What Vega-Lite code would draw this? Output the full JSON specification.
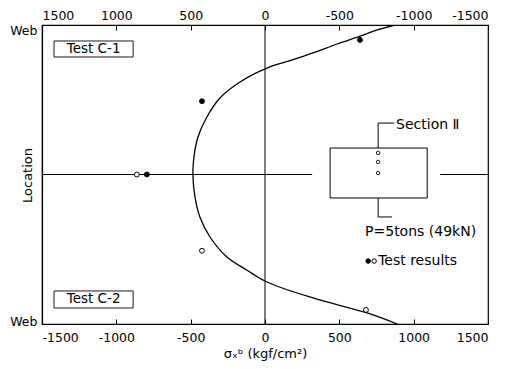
{
  "$schema": "https://vega.github.io/schema/vega-lite/v6.json",
  "width": 446,
  "height": 299,
  "autosize": {"type": "none"},
  "padding": {"left": 42, "top": 25, "right": 25, "bottom": 45},
  "background": "white",
  "config": {
    "font": "DejaVu Sans",
    "view": {"stroke": "black", "strokeWidth": 1.2},
    "axis": {
      "domainColor": "black",
      "domainWidth": 1.2,
      "tickColor": "black",
      "labelColor": "black",
      "titleColor": "black",
      "labelFont": "DejaVu Sans",
      "titleFont": "DejaVu Sans",
      "labelFontSize": 12.5,
      "titleFontSize": 13,
      "titleFontWeight": "normal",
      "grid": false
    }
  },
  "layer": [
    {
      "data": {"values": [{"s": 0}]},
      "mark": {"type": "rule", "stroke": "black", "strokeWidth": 1},
      "encoding": {
        "x": {
          "field": "s",
          "type": "quantitative",
          "scale": {"domain": [-1500, 1500], "nice": false, "zero": false},
          "axis": {
            "orient": "bottom",
            "values": [-1500, -1000, -500, 0, 500, 1000, 1500],
            "labelExpr": "'' + datum.value",
            "tickSize": -5,
            "labelPadding": 12,
            "title": "σₓᵇ  (kgf/cm²)",
            "titlePadding": 4
          }
        }
      }
    },
    {
      "data": {"values": [{"s": 0}]},
      "mark": {"type": "rule", "opacity": 0},
      "encoding": {
        "x": {
          "field": "s",
          "type": "quantitative",
          "axis": {
            "orient": "top",
            "values": [-1500, -1000, -500, 0, 500, 1000, 1500],
            "labelExpr": "datum.value == 0 ? '0' : '' + (-datum.value)",
            "tickSize": -5,
            "labelPadding": 8,
            "title": null
          }
        }
      }
    },
    {
      "data": {"values": [
        {"s1": -1500, "s2": 317, "loc": 0},
        {"s1": 1178, "s2": 1500, "loc": 0}
      ]},
      "mark": {"type": "rule", "stroke": "black", "strokeWidth": 1},
      "encoding": {
        "x": {"field": "s1", "type": "quantitative", "axis": null},
        "x2": {"field": "s2"},
        "y": {
          "field": "loc",
          "type": "quantitative",
          "scale": {"domain": [-1, 1], "nice": false, "zero": false},
          "axis": {
            "orient": "left",
            "values": [-0.98, 0.96],
            "labelExpr": "'Web'",
            "ticks": false,
            "labelPadding": 5,
            "labelBound": false,
            "title": "Location",
            "titleAngle": 270,
            "titleX": -15,
            "titleY": 150,
            "titleAlign": "center",
            "titleBaseline": "middle"
          }
        }
      }
    },
    {
      "data": {"values": [
        {"sigma": 875, "loc": 1.0},
        {"sigma": 754, "loc": 0.967},
        {"sigma": 640, "loc": 0.926},
        {"sigma": 485, "loc": 0.873},
        {"sigma": 323, "loc": 0.813},
        {"sigma": 168, "loc": 0.761},
        {"sigma": 13, "loc": 0.712},
        {"sigma": -168, "loc": 0.619},
        {"sigma": -303, "loc": 0.512},
        {"sigma": -391, "loc": 0.385},
        {"sigma": -451, "loc": 0.251},
        {"sigma": -478, "loc": 0.117},
        {"sigma": -485, "loc": 0.0},
        {"sigma": -471, "loc": -0.15},
        {"sigma": -438, "loc": -0.284},
        {"sigma": -370, "loc": -0.418},
        {"sigma": -256, "loc": -0.552},
        {"sigma": -121, "loc": -0.64},
        {"sigma": 13, "loc": -0.719},
        {"sigma": 323, "loc": -0.826},
        {"sigma": 687, "loc": -0.926},
        {"sigma": 889, "loc": -1.0}
      ]},
      "mark": {"type": "line", "stroke": "black", "strokeWidth": 1.3, "interpolate": "catmull-rom", "clip": true},
      "encoding": {
        "x": {"field": "sigma", "type": "quantitative", "axis": null},
        "y": {"field": "loc", "type": "quantitative"},
        "order": {"field": "loc", "sort": "descending"}
      }
    },
    {
      "data": {"values": [
        {"x1": 438, "x2": 1091, "y1": -0.157, "y2": 0.177}
      ]},
      "mark": {"type": "rect", "fill": null, "stroke": "black", "strokeWidth": 1},
      "encoding": {
        "x": {"field": "x1", "type": "quantitative", "axis": null},
        "x2": {"field": "x2"},
        "y": {"field": "y1", "type": "quantitative"},
        "y2": {"field": "y2"}
      }
    },
    {
      "data": {"values": [
        {"x1": -1419, "x2": -887, "y1": 0.786, "y2": 0.893, "dash": "solid"},
        {"x1": -1419, "x2": -887, "y1": -0.893, "y2": -0.779, "dash": "dashed"}
      ]},
      "mark": {"type": "rect", "fill": null, "stroke": "black", "strokeWidth": 0.9},
      "encoding": {
        "x": {"field": "x1", "type": "quantitative", "axis": null},
        "x2": {"field": "x2"},
        "y": {"field": "y1", "type": "quantitative"},
        "y2": {"field": "y2"},
        "strokeDash": {
          "field": "dash",
          "type": "nominal",
          "scale": {"domain": ["solid", "dashed"], "range": [[1, 0], [4, 2]]},
          "legend": null
        }
      }
    },
    {
      "data": {"values": [
        {"g": "section", "o": 1, "x": 761, "y": 0.177},
        {"g": "section", "o": 2, "x": 761, "y": 0.344},
        {"g": "section", "o": 3, "x": 870, "y": 0.344},
        {"g": "load", "o": 1, "x": 761, "y": -0.157},
        {"g": "load", "o": 2, "x": 761, "y": -0.284},
        {"g": "load", "o": 3, "x": 855, "y": -0.284}
      ]},
      "mark": {"type": "line", "stroke": "black", "strokeWidth": 1},
      "encoding": {
        "x": {"field": "x", "type": "quantitative", "axis": null},
        "y": {"field": "y", "type": "quantitative"},
        "detail": {"field": "g"},
        "order": {"field": "o"}
      }
    },
    {
      "data": {"values": [
        {"x": 761, "y": 0.144},
        {"x": 761, "y": 0.084},
        {"x": 761, "y": 0.010}
      ]},
      "mark": {"type": "point", "shape": "circle", "filled": false, "stroke": "black", "strokeWidth": 0.9, "size": 12, "opacity": 1},
      "encoding": {
        "x": {"field": "x", "type": "quantitative", "axis": null},
        "y": {"field": "y", "type": "quantitative"}
      }
    },
    {
      "data": {"values": [
        {"test": "C-1", "sigma": 639, "loc": 0.90},
        {"test": "C-1", "sigma": -424, "loc": 0.49},
        {"test": "C-1", "sigma": -795, "loc": 0.0},
        {"test": "C-2", "sigma": 679, "loc": -0.906},
        {"test": "C-2", "sigma": -424, "loc": -0.51},
        {"test": "C-2", "sigma": -862, "loc": 0.0}
      ]},
      "mark": {"type": "point", "shape": "circle", "stroke": "black", "strokeWidth": 1, "size": 24, "opacity": 1},
      "encoding": {
        "x": {"field": "sigma", "type": "quantitative", "axis": null},
        "y": {"field": "loc", "type": "quantitative"},
        "fill": {
          "field": "test",
          "type": "nominal",
          "scale": {"domain": ["C-1", "C-2"], "range": ["black", "white"]},
          "legend": null
        }
      }
    },
    {
      "data": {"values": [
        {"k": "filled", "x": 694, "y": -0.579},
        {"k": "open", "x": 734, "y": -0.579}
      ]},
      "mark": {"type": "point", "shape": "circle", "stroke": "black", "strokeWidth": 1, "size": 20, "opacity": 1},
      "encoding": {
        "x": {"field": "x", "type": "quantitative", "axis": null},
        "y": {"field": "y", "type": "quantitative"},
        "fill": {
          "field": "k",
          "type": "nominal",
          "scale": {"domain": ["filled", "open"], "range": ["black", "white"]},
          "legend": null
        }
      }
    },
    {
      "data": {"values": [
        {"label": "Section Ⅱ", "x": 882, "y": 0.331},
        {"label": "P=5tons (49kN)", "x": 673, "y": -0.385},
        {"label": "Test results", "x": 761, "y": -0.579}
      ]},
      "mark": {"type": "text", "align": "left", "baseline": "middle", "fontSize": 14, "color": "black"},
      "encoding": {
        "x": {"field": "x", "type": "quantitative", "axis": null},
        "y": {"field": "y", "type": "quantitative"},
        "text": {"field": "label"}
      }
    },
    {
      "data": {"values": [
        {"label": "Test  C-1", "x": -1153, "y": 0.84},
        {"label": "Test  C-2", "x": -1153, "y": -0.836}
      ]},
      "mark": {"type": "text", "align": "center", "baseline": "middle", "fontSize": 13.5, "color": "black"},
      "encoding": {
        "x": {"field": "x", "type": "quantitative", "axis": null},
        "y": {"field": "y", "type": "quantitative"},
        "text": {"field": "label"}
      }
    }
  ]
}
